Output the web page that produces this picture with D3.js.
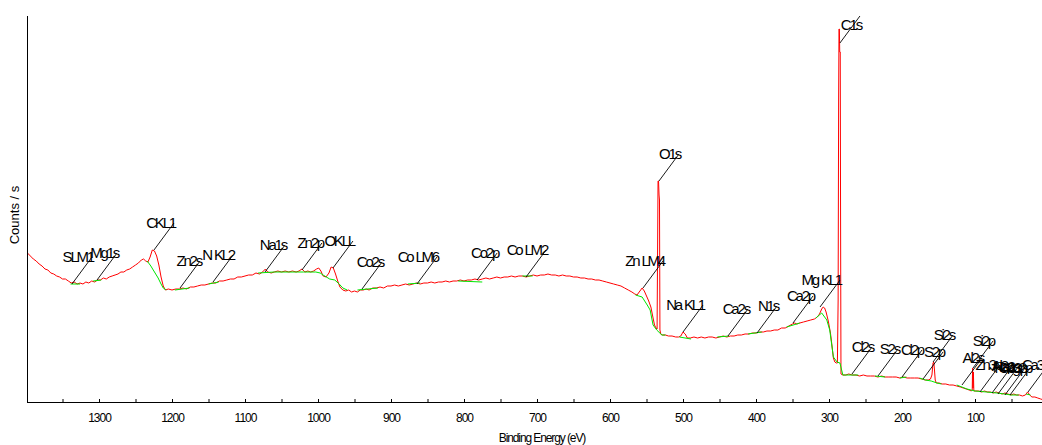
<!DOCTYPE html>
<html>
<head>
<meta charset="utf-8">
<script src="https://cdn.jsdelivr.net/npm/d3@7/dist/d3.min.js"></script>
<style>
  body { margin: 0; background: #fff; }
  svg { display: block; }
  text { font-family: "Liberation Sans", Arial, sans-serif; fill: #000; }
</style>
</head>
<body>
<svg id="chart" width="1042" height="445"></svg>
<script>
// XPS survey spectrum: binding energy (eV) and intensity (k counts/s)
const energy = [
  1398,1394,1390,1386,1382,1378,1374,1370,1366,1362,1358,1354,1350,1346,1342,1338,1334,1330,1326,1322,
  1318,1314,1310,1306,1302,1298,1294,1290,1286,1282,1278,1274,1270,1266,1262,1258,1254,1250,1246,1242,
  1239,1236,1233,1230,1227,1224,1221,1218,1215,1212,1209,1205,1200,1195,1190,1185,1180,1175,1170,1165,
  1160,1155,1150,1145,1140,1135,1130,1125,1120,1115,1110,1105,1100,1095,1090,1085,1080,1076,1072,1069,
  1064,1060,1055,1050,1045,1040,1035,1030,1026,1022,1018,1014,1010,1006,1002,999,996,993,989,985,
  982,979,976,973,970,966,962,958,954,950,946,942,938,934,930,925,920,915,910,905,
  900,895,890,885,880,875,870,865,860,855,850,845,840,835,830,825,820,815,810,805,
  800,795,790,785,780,775,770,765,760,755,750,745,740,735,730,725,720,715,710,705,
  700,695,690,685,680,675,670,665,660,655,650,645,640,635,630,625,620,615,610,605,
  600,595,590,585,580,575,570,566,563,559,556,553,550,547,544,541,539,537,535.5,534.8,
  534.2,533.5,532.8,532.2,531.6,530.5,528,524,520,515,510,506,503,500,497,494,490,485,480,475,
  470,465,460,455,450,445,440,435,430,425,420,415,410,405,400,395,390,385,380,375,
  370,365,360,355,350,347,344,340,335,330,325,320,316,313,310,308,306,304,301,298,
  296,294,292,290,288.5,287.5,286.8,286.3,285.8,285.3,284.6,284.2,283.6,281,277,273,268,263,258,253,
  248,243,238,233,228,223,218,213,208,203,198,193,188,183,178,173,168,164,161,159,
  157.5,156.5,155.5,154.5,153,149,145,140,135,130,125,120,116,112,108,105,103.8,103.3,102.8,102.2,
  101.6,99,95,91,87,83,79,75,71,67,63,59,55,51,47,43,39,35,31,28,
  25,22,18,14,10,6,2
];
const counts = [
  149,146,143,141,138,136,133,132,129,128,126,125,123,123,121,119,120,118,119,118,
  120,119,121,120,122,122,124,123,125,126,127,128,130,130,132,133,135,137,139,142,
  143,141,140,145,152,151,146,137,125,116,112,113,112,113,113,114,113,115,115,116,
  117,117,118,119,119,121,121,122,123,123,125,125,126,127,127,129,128,130,133,130,
  129,130,131,130,131,130,131,130,131,133,130,131,130,131,133,134,131,126,125,129,
  135,134,128,121,115,112,111,112,110,111,110,112,112,113,112,114,114,115,114,116,
  116,117,116,117,118,117,118,119,118,119,119,120,119,120,120,121,120,121,121,122,
  121,122,122,123,122,123,124,123,124,125,124,125,125,126,125,126,126,125,126,127,
  126,127,127,128,127,127,126,127,126,126,125,125,124,124,123,123,122,122,121,120,
  119,118,117,116,114,112,110,108,107,111,114,111,106,101,95,84,77,74,73,152,
  221,221,207,202,72,68,67,67,66,66,65,65,66,70,68,64,64,65,64,65,
  64,65,65,64,65,66,65,66,66,67,67,68,68,69,69,70,70,71,71,72,
  72,74,74,76,78,79,78,79,80,81,82,83,85,88,93,95,94,90,81,69,
  57,44,40,39,39,102,302,373,373,350,350,202,28,27,27,28,27,27,26,27,
  26,26,26,25,26,25,25,25,25,24,25,24,24,24,24,23,22,22,23,27,
  39,40,32,22,19,19,18,18,17,17,16,15,14,13,12,11,12,34,14,30,
  11,11,11,10,11,10,10,9,10,9,8,9,8,7,8,7,7,6,7,10,
  7,5,5,4,3,2,2
];

// Fitted background under each peak region: [energy, k counts/s]
const bgSlm1  = [[1339,118],[1326,118]];
const bgMg1s  = [[1308,121],[1297,122]];
const bgCkl   = [[1234,141],[1229,136],[1224,130],[1219,124],[1215,118],[1212,114],[1208,112]];
const bgZn2s  = [[1196,112],[1176,114]];
const bgNkl   = [[1150,118],[1136,120]];
const bgOkll  = [[1082,129],[1060,130],[1040,130],[1020,130],[1003,130],[997,129],[993,127],
                 [984,123],[977,122],[971,118],[966,114],[960,112]];
const bgCo2s  = [[946,112],[918,114]];
const bgCoLm6 = [[877,118],[860,119]];
const bgCo2p  = [[808,121],[775,120]];
const bgCoLm2 = [[720,126],[706,126]];
const bgO1s   = [[565,107],[556,105],[549,97],[545,92],[541,77],[536,72],[529,67],[524,67]];
const bgNaKl  = [[505,65],[489,63]];
const bgCa2s  = [[453,65],[437,66]];
const bgN1s   = [[411,68],[392,70]];
const bgCa2p  = [[358,75],[340,79]];
const bgC1s   = [[318,84],[310,89],[303,82],[299,72],[294,45],[289,40],[285,39],[281,27],[274,27],[260,27]];
const bgS2s   = [[237,26],[223,25]];
const bgCl2p  = [[203,24],[194,25]];
const bgSi2s  = [[176,24],[168,22],[160,21],[152,19],[146,18]];
const bgSi2p  = [[125,17],[111,13],[100,11],[84,10],[70,9],[60,8],[50,7],[40,7]];
const bgCa3p  = [[30,8],[24,7]];
const backgrounds = [bgSlm1,bgMg1s,bgCkl,bgZn2s,bgNkl,bgOkll,bgCo2s,bgCoLm6,bgCo2p,bgCoLm2,
                     bgO1s,bgNaKl,bgCa2s,bgN1s,bgCa2p,bgC1s,bgS2s,bgCl2p,bgSi2s,bgSi2p,bgCa3p];

// Peak identifications: name, marker energy (eV), marker intensity (k counts/s)
const peakNames = ["SLM1","Mg1s","CKL1","Zn2s","N KL2","Na1s","Zn2p","OKLL","Co2s","Co LM6","Co2p","Co LM2",
  "Zn LM4","O1s","Na KL1","Ca2s","N1s","Ca2p","Mg KL1","C1s","Cl2s","S2s","Cl2p","S2p","Si2s","Si2p",
  "Al2s","Zn3p","Al2p","Na2s","Co3p","Mg2p","Ca3p"];
const peakEnergies = [1337,1302.7,1224.7,1189,1143.8,1072.6,1022,979.5,939.7,864.4,782,715,
  554.8,532.9,500,438.4,398.6,349.3,312.3,285,268.5,232.9,200,171.2,157.5,102.7,
  117.8,93.2,76.7,68.5,59,52,27.4];
const peakMarks = [118,122,152,114,120,130,132,134,113,118,122,125,
  114,221,70,66,69,79,95,359,28,26,25,23,40,34,
  17,10,9,8,7,7,10];

// Axis ticks
const tickValues = d3.range(1350, 0, -50);
const tickLabelStep = 100;

const plot = { left: 27, right: 1042, top: 16, bottom: 402 };

const x = d3.scaleLinear().domain([1400, 0]).range([26, 1048]);
const y = d3.scaleLinear().domain([0, 386]).range([plot.bottom, plot.top]);

const svg = d3.select("#chart");

svg.append("defs").append("clipPath").attr("id", "plotClip")
  .append("rect").attr("x", plot.left).attr("y", 0)
  .attr("width", plot.right - plot.left).attr("height", plot.bottom);

const g = svg.append("g").attr("clip-path", "url(#plotClip)");

// spectrum
const spectrum = energy.map((e, i) => [e, counts[i]]);
const line = d3.line().x(d => x(d[0])).y(d => y(d[1]));

g.append("path").datum(spectrum)
  .attr("d", line).attr("fill", "none")
  .attr("stroke", "#ff0000").attr("stroke-width", 1);

// backgrounds
g.selectAll("path.bg").data(backgrounds).join("path")
  .attr("class", "bg").attr("d", line).attr("fill", "none")
  .attr("stroke", "#00e600").attr("stroke-width", 1);

// peak labels with leader lines
const leadDx = 20, leadDy = -27;
const textOffset = { dx: 21, dy: -22 };
const textOverride = { "C1s": -13 };
const labels = svg.append("g");
peakNames.forEach((name, i) => {
  const px = x(peakEnergies[i]), py = y(peakMarks[i]);
  labels.append("line")
    .attr("x1", px).attr("y1", py)
    .attr("x2", px + leadDx).attr("y2", py + leadDy)
    .attr("stroke", "#000").attr("stroke-width", 0.9);
  labels.append("text")
    .attr("x", px + textOffset.dx)
    .attr("y", py + (textOverride[name] !== undefined ? textOverride[name] : textOffset.dy))
    .attr("text-anchor", "end")
    .style("font-size", "15px").style("letter-spacing", "-2.2px").style("word-spacing", "1px")
    .text(name);
});

// x axis
const xAxis = d3.axisBottom(x)
  .tickValues(tickValues)
  .tickSizeInner(-3).tickSizeOuter(0).tickPadding(11)
  .tickFormat(d => d % tickLabelStep === 0 ? d : "");
const ax = svg.append("g").attr("transform", `translate(0,${plot.bottom})`).call(xAxis);
ax.select(".domain").attr("d", `M${plot.left},0.5H${plot.right}`).attr("stroke", "#000");
ax.selectAll(".tick line").attr("stroke", "#000");
ax.selectAll(".tick text")
  .style("font-family", '"Liberation Sans", Arial, sans-serif')
  .style("font-size", "12px").style("letter-spacing", "-1px").attr("fill", "#000");

// y axis line
svg.append("line")
  .attr("x1", plot.left + 0.5).attr("x2", plot.left + 0.5)
  .attr("y1", plot.top).attr("y2", plot.bottom + 1)
  .attr("stroke", "#000");

// axis titles
svg.append("text")
  .attr("x", 542).attr("y", 442)
  .attr("text-anchor", "middle")
  .style("font-size", "12px").style("letter-spacing", "-1.1px")
  .text("Binding Energy (eV)");

svg.append("text")
  .attr("transform", "translate(19,215) rotate(-90)")
  .attr("text-anchor", "middle")
  .style("font-size", "13px")
  .text("Counts / s");
</script>
</body>
</html>
